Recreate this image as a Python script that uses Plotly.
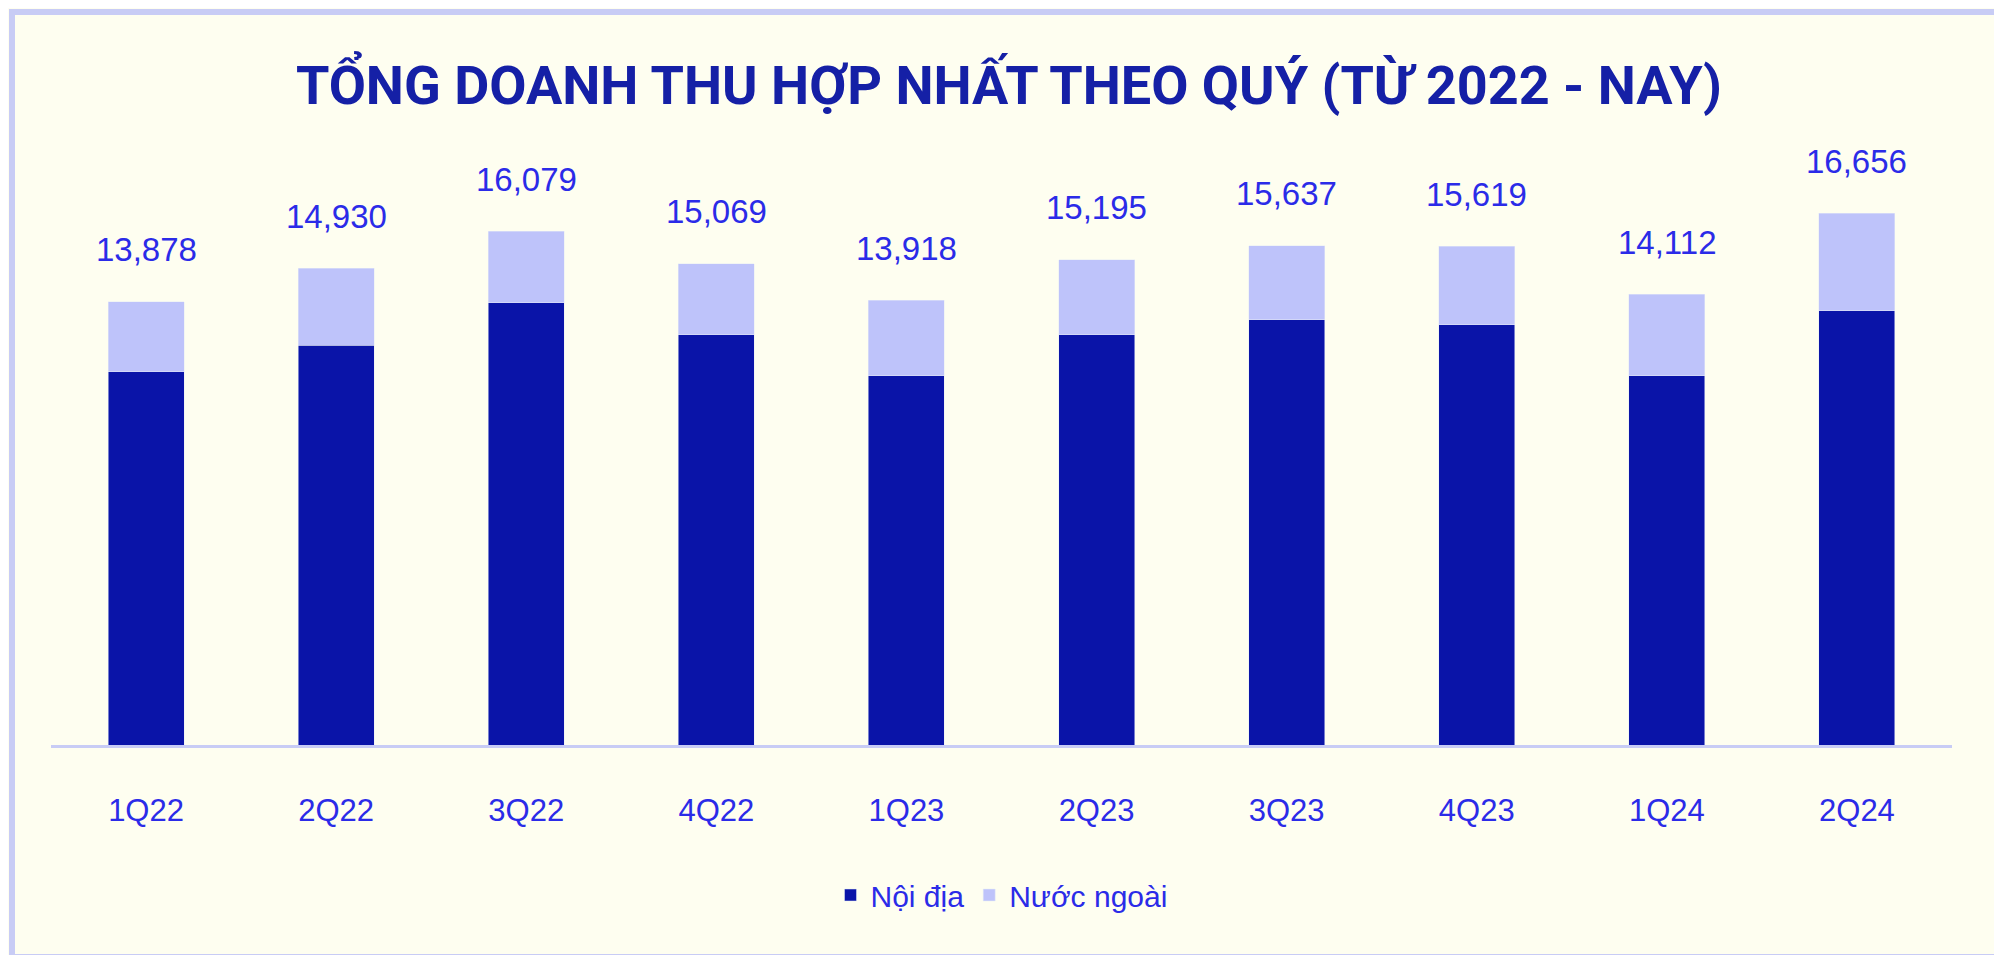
import plotly.graph_objects as go

quarters = ['1Q22', '2Q22', '3Q22', '4Q22', '1Q23', '2Q23', '3Q23', '4Q23', '1Q24', '2Q24']
total = [13878, 14930, 16079, 15069, 13918, 15195, 15637, 15619, 14112, 16656]
noi_dia = [11680, 12520, 13840, 12840, 11560, 12840, 13320, 13160, 11560, 13600]
nuoc_ngoai = [t - d for t, d in zip(total, noi_dia)]

W, H = 2002, 955
ml, mr, mt, mb = 43, 58, 111, 218

fig = go.Figure()
fig.add_trace(go.Bar(x=quarters, y=noi_dia, name='Nội địa', marker_color='#0A14A8'))
fig.add_trace(go.Bar(x=quarters, y=nuoc_ngoai, name='Nước ngoài', marker_color='#BEC3FA'))

for q, t in zip(quarters, total):
    fig.add_annotation(x=q, y=t, text=f'{t:,}', showarrow=False, yshift=52,
                       font=dict(size=33, color='#2B2BE8', family='Liberation Sans'))

pw = W - ml - mr
ph = H - mt - mb
fig.add_shape(type='rect', xref='paper', yref='paper',
              x0=-(ml - 4) / pw, x1=1 + (mr - 6) / pw,
              y0=-(mb - 6) / ph, y1=1 + (mt - 4) / ph,
              line=dict(color='#C8CCF5', width=6))

fig.update_layout(
    width=W, height=H,
    margin=dict(l=ml, r=mr, t=mt, b=mb),
    paper_bgcolor='#FEFEF0', plot_bgcolor='#FEFEF0',
    barmode='stack', bargap=0.6,
    title=dict(text='<b>TỔNG DOANH THU HỢP NHẤT THEO QUÝ (TỪ 2022 - NAY)</b>',
               x=0.5, xanchor='center', y=1 - 77 / H, yanchor='middle',
               font=dict(size=54, color='#1520A6', family='Roboto')),
    legend=dict(orientation='h', traceorder='normal', x=0.5, xanchor='center',
                y=-(887 - 737) / ph, yanchor='middle',
                font=dict(size=30, color='#2B2BE8', family='Liberation Sans'),
                bgcolor='rgba(0,0,0,0)'),
    showlegend=True,
)
fig.update_xaxes(showgrid=False, showline=True, linecolor='#C8CCF5', linewidth=3,
                 ticks='outside', ticklen=36, tickcolor='rgba(0,0,0,0)',
                 tickfont=dict(size=31, color='#2B2BE8', family='Liberation Sans'))
fig.update_yaxes(range=[0, 19600], visible=False)

fig.write_html('out.html')
